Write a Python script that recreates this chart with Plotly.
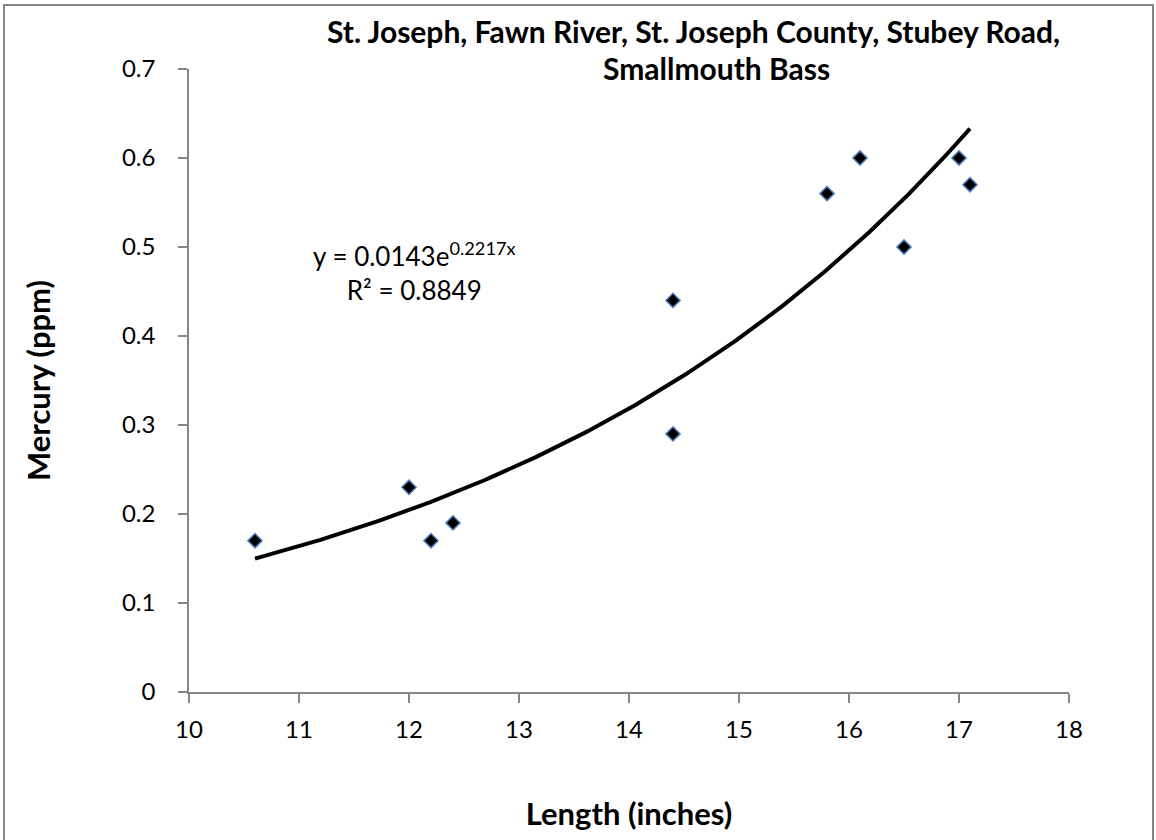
import numpy as np
import plotly.graph_objects as go

length_in = [10.6, 12.0, 12.2, 12.4, 14.4, 14.4, 15.8, 16.1, 16.5, 17.0, 17.1]
mercury_ppm = [0.17, 0.23, 0.17, 0.19, 0.44, 0.29, 0.56, 0.60, 0.50, 0.60, 0.57]

title_line1 = "St. Joseph, Fawn River, St. Joseph County, Stubey Road,"
title_line2 = "Smallmouth Bass"
x_title = "Length (inches)"
y_title = "Mercury (ppm)"
eq_a = 0.0143
eq_b = 0.2217
r2 = 0.8849

# exponential trendline (Excel-style fit: linear regression on ln(y))
xa = np.array(length_in)
ya = np.array(mercury_ppm)
b_fit, ln_a = np.polyfit(xa, np.log(ya), 1)
a_fit = np.exp(ln_a)
xt = np.linspace(xa.min(), xa.max(), 200)
yt = a_fit * np.exp(b_fit * xt)

FONT = "Lato"
AX = "#868686"

# plot area in page pixels
PL, PR, PT, PB = 189, 1069, 69, 692
W, H = 1156, 840


def px(x):
    return (x - PL) / (PR - PL)


def py(y):
    return (PB - y) / (PB - PT)


fig = go.Figure()
fig.add_trace(go.Scatter(x=xt, y=yt, mode="lines",
                         line=dict(color="black", width=4), hoverinfo="skip"))
fig.add_trace(go.Scatter(x=length_in, y=mercury_ppm, mode="markers",
                         marker=dict(symbol="diamond", size=11, color="black",
                                     line=dict(color="#4F81BD", width=1.5))))

fig.update_layout(
    width=W, height=H,
    margin=dict(l=PL, r=W - PR, t=PT, b=H - PB, autoexpand=False),
    paper_bgcolor="white", plot_bgcolor="white",
    showlegend=False,
    font=dict(family=FONT, color="black", size=24),
    xaxis=dict(range=[10, 18], dtick=1, tick0=10, showgrid=False, zeroline=False,
               showline=True, linecolor=AX, linewidth=1.5, ticks="outside",
               ticklen=9, tickcolor=AX, tickwidth=1.5, tickfont=dict(size=24),
               ticklabelstandoff=6,
               title=dict(text="<b>" + x_title + "</b>", font=dict(size=31), standoff=62)),
    yaxis=dict(range=[0, 0.7], dtick=0.1, tick0=0, showgrid=False, zeroline=False,
               showline=True, linecolor=AX, linewidth=1.5, ticks="outside",
               ticklen=9, tickcolor=AX, tickwidth=1.5, tickfont=dict(size=24),
               tickformat=".1~f", ticklabelstandoff=18,
               title=dict(text="<b>" + y_title + "</b>", font=dict(size=31), standoff=62)),
)

fig.add_annotation(xref="paper", yref="paper", x=px(693), y=py(31),
                   xanchor="center", yanchor="middle", showarrow=False,
                   text="<b>" + title_line1 + "</b>", font=dict(size=30, family=FONT))
fig.add_annotation(xref="paper", yref="paper", x=px(716), y=py(68),
                   xanchor="center", yanchor="middle", showarrow=False,
                   text="<b>" + title_line2 + "</b>", font=dict(size=30, family=FONT))

fig.add_annotation(xref="paper", yref="paper", x=px(414), y=py(271),
                   xanchor="center", yanchor="middle", showarrow=False, align="center",
                   text=f"y = {eq_a}e<sup>{eq_b}x</sup><br>R² = {r2}",
                   font=dict(size=26, family=FONT))

fig.add_shape(type="rect", xref="paper", yref="paper",
              x0=px(4), x1=px(1153), y0=py(860), y1=py(5),
              line=dict(color=AX, width=2), fillcolor="rgba(0,0,0,0)", layer="below")

fig.write_html("out.html", config={"displayModeBar": False},
               post_script="document.body.style.margin='0';")
